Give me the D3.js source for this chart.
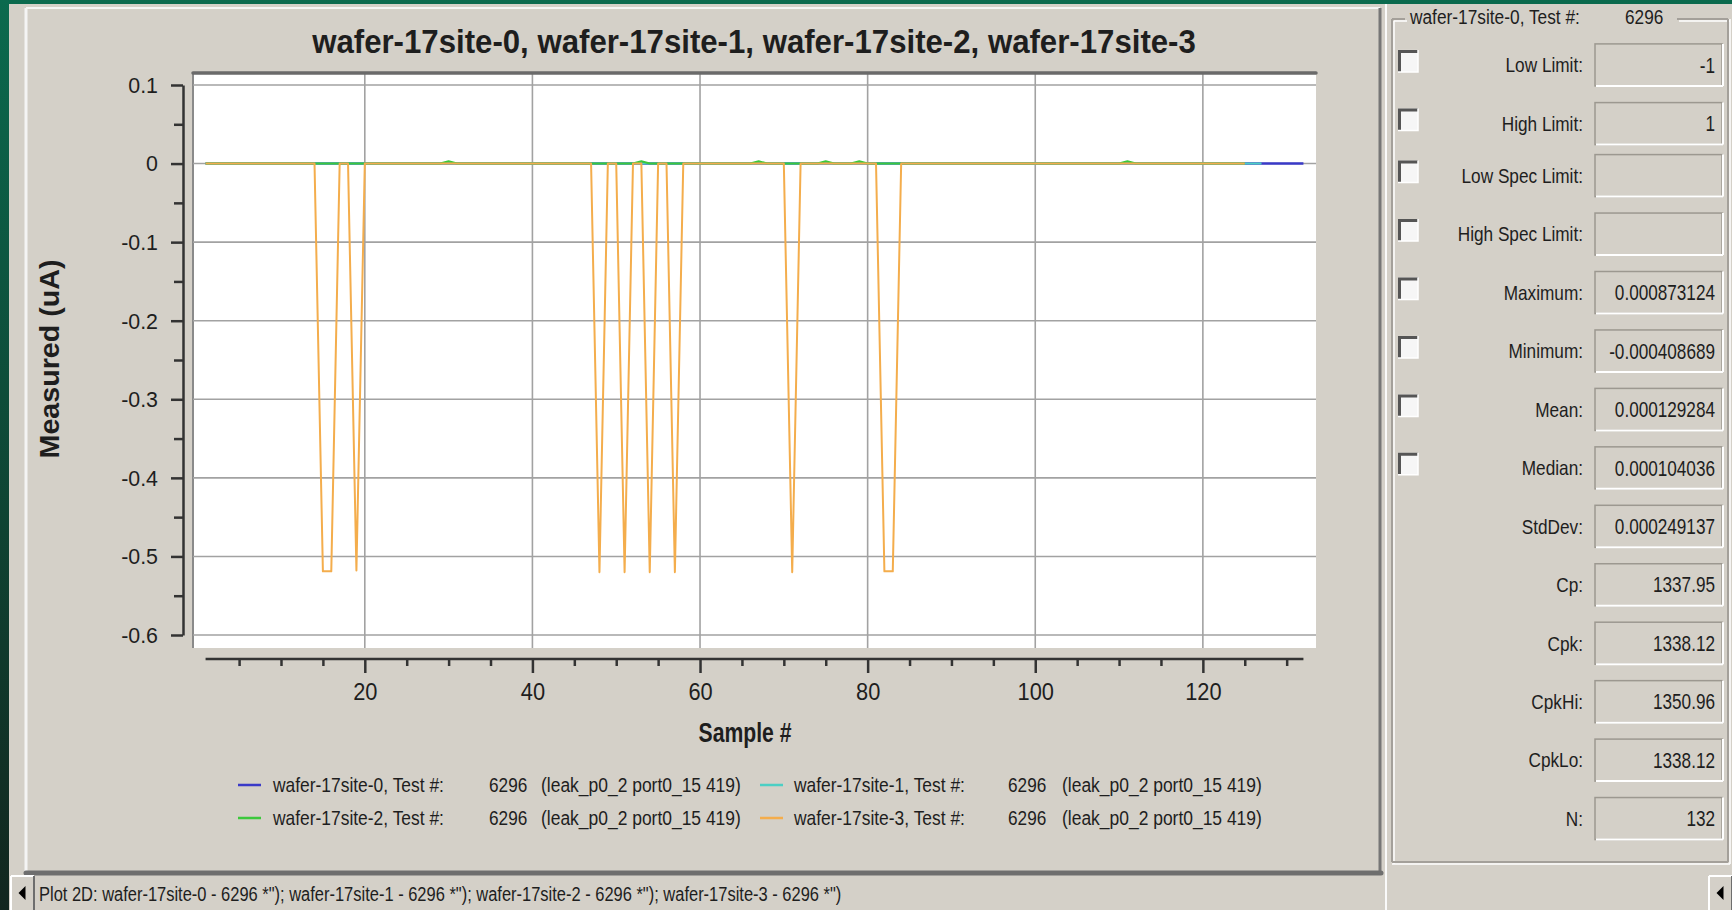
<!DOCTYPE html>
<html lang="en">
<head>
<meta charset="UTF-8">
<title>wafer-17 leak test - Plot 2D</title>
<script src="https://d3js.org/d3.v7.min.js"></script>
<style>
  body { margin: 0; background: #0b5a44; overflow: hidden; }
  svg { display: block; font-family: "Liberation Sans", Arial, sans-serif; }
</style>
</head>
<body>
<svg width="1732" height="910"></svg>
<script>
// ---- data ----
const sites = ["wafer-17site-0", "wafer-17site-1", "wafer-17site-2", "wafer-17site-3"];
const siteColors = ["#3a3ac8", "#4ccfc4", "#3cc83c", "#f4ad4c"];
const siteCounts = [132, 127, 125, 125];
const testNo = "6296";
const testName = "(leak_p0_2 port0_15 419)";

// samples that are visibly off the zero line (sample #, uA); every other sample sits at ~0
const site0Points = [];
const site1Points = [];
const site2Points = [[30, 0.003], [53, 0.003], [67, 0.003], [75, 0.003], [79, 0.003], [111, 0.003]];
const site3Points = [[15, -0.519], [16, -0.519], [19, -0.518], [48, -0.52], [51, -0.52], [54, -0.52],
                     [57, -0.52], [71, -0.52], [82, -0.519], [83, -0.519]];

const yTicks = [0.1, 0, -0.1, -0.2, -0.3, -0.4, -0.5, -0.6];
const yMinorTicks = [0.05, -0.05, -0.15, -0.25, -0.35, -0.45, -0.55];
const xTicks = [20, 40, 60, 80, 100, 120];
const xMinorTicks = [5, 10, 15, 25, 30, 35, 45, 50, 55, 65, 70, 75, 85, 90, 95, 105, 110, 115, 125, 130];

const statLabels = ["Low Limit:", "High Limit:", "Low Spec Limit:", "High Spec Limit:", "Maximum:", "Minimum:",
                    "Mean:", "Median:", "StdDev:", "Cp:", "Cpk:", "CpkHi:", "CpkLo:", "N:"];
const statValues = ["-1", "1", "", "", "0.000873124", "-0.000408689", "0.000129284", "0.000104036",
                    "0.000249137", "1337.95", "1338.12", "1350.96", "1338.12", "132"];
const statChecks = [true, true, true, true, true, true, true, true, false, false, false, false, false, false];

// ---- setup ----
const svg = d3.select("svg");
const W = 1732, H = 910;
const gray = "#d4d0c8";
const ink = "#1e1e1e";

// narrow the text horizontally (the app uses a condensed face)
function squeeze(sel, k) {
  sel.each(function() {
    const t = d3.select(this);
    const x0 = +t.attr("x") || 0;
    t.attr("x", x0 / k).attr("transform", `scale(${k},1)`);
  });
}

// text placed at (x, y), vertically centred; either squeezed by k or fitted to len
function label(parent, x, y, str, opt = {}) {
  const g = parent.append("g").attr("transform", `translate(${x},${y})` + (opt.rotate ? ` rotate(${opt.rotate})` : ""));
  const t = g.append("text")
    .attr("dy", "0.35em")
    .attr("font-size", opt.size || 21)
    .attr("font-weight", opt.bold ? "bold" : null)
    .attr("text-anchor", opt.anchor || "start")
    .attr("fill", opt.color || ink)
    .text(str);
  const k = opt.len ? opt.len / t.node().getComputedTextLength() : (opt.k ?? 0.82);
  t.attr("transform", `scale(${k},1)`);
  return t;
}

function seg(x1, y1, x2, y2, color, w) {
  return svg.append("line").attr("x1", x1).attr("y1", y1).attr("x2", x2).attr("y2", y2)
    .attr("stroke", color).attr("stroke-width", w);
}

// window frame
const defs = svg.append("defs");
const grad = defs.append("linearGradient").attr("id", "frame")
  .attr("x1", 0).attr("y1", 0).attr("x2", 0).attr("y2", 1);
grad.append("stop").attr("offset", "0%").attr("stop-color", "#0b6a4e");
grad.append("stop").attr("offset", "100%").attr("stop-color", "#12261e");
svg.append("rect").attr("width", W).attr("height", H).attr("fill", "url(#frame)");
svg.append("rect").attr("x", 9).attr("y", 4).attr("width", W - 9).attr("height", H - 4).attr("fill", gray);

// main chart panel
seg(26, 8, 1380, 8, "#f4f4f4", 2);
seg(26, 8, 26, 873, "#f4f4f4", 3);
seg(1380, 8, 1380, 874, "#767676", 3);
seg(26, 873, 1381, 873, "#6e6e6e", 5).attr("stroke-linecap", "round");
seg(1386, 4, 1386, H, "#fafafa", 2);

// ---- plot area ----
const plot = { left: 193, right: 1316, top: 72, bottom: 648 };
const x = d3.scaleLinear().domain([-0.5, 133.5]).range([plot.left, plot.right]);
const y = d3.scaleLinear().domain([-0.6, 0.1]).range([635, 85]);

svg.append("rect").attr("x", plot.left).attr("y", plot.top)
  .attr("width", plot.right - plot.left).attr("height", plot.bottom - plot.top).attr("fill", "#fff");
seg(plot.left, plot.top, plot.left, plot.bottom, "#8a8a8a", 2);

const grid = svg.append("g").attr("stroke", "#a2a2a2").attr("stroke-width", 1.6);
grid.selectAll(".h").data(yTicks).join("line").attr("class", "h")
  .attr("x1", plot.left).attr("x2", plot.right)
  .attr("y1", d => y(d)).attr("y2", d => y(d));
grid.selectAll(".v").data(xTicks).join("line").attr("class", "v")
  .attr("x1", d => x(d)).attr("x2", d => x(d))
  .attr("y1", plot.top).attr("y2", plot.bottom);

seg(plot.left, plot.top + 1, plot.right, plot.top + 1, "#6a6a6a", 3.5).attr("stroke-linecap", "round");

// ---- axes ----
function styleAxis(g) {
  g.attr("font-family", null).attr("font-size", null);
  g.selectAll("path.domain").attr("stroke", "#333").attr("stroke-width", 2.5);
  g.selectAll(".tick line").attr("stroke", "#333").attr("stroke-width", 2.5);
  g.selectAll(".tick text").attr("fill", ink).attr("font-size", 23);
}

const gy = svg.append("g").attr("transform", "translate(183,0)")
  .call(d3.axisLeft(y).tickValues(yTicks).tickSize(12).tickSizeOuter(0).tickPadding(13)
    .tickFormat(d => String(+d.toFixed(1))));
styleAxis(gy);
squeeze(gy.selectAll(".tick text"), 0.93);

const gyMinor = svg.append("g").attr("transform", "translate(183,0)")
  .call(d3.axisLeft(y).tickValues(yMinorTicks).tickSize(9).tickFormat(""));
gyMinor.select(".domain").remove();
styleAxis(gyMinor);

const gx = svg.append("g").attr("transform", "translate(0,659)")
  .call(d3.axisBottom(x).tickValues(xTicks).tickSize(14).tickSizeOuter(0).tickPadding(11));
gx.select(".domain").attr("d", `M${x(1)},0H${x(132)}`);
styleAxis(gx);
squeeze(gx.selectAll(".tick text"), 0.95);

const gxMinor = svg.append("g").attr("transform", "translate(0,659)")
  .call(d3.axisBottom(x).tickValues(xMinorTicks).tickSize(7).tickFormat(""));
gxMinor.select(".domain").remove();
styleAxis(gxMinor);

// titles
label(svg, 754, 41, sites.join(", "), { size: 34, bold: true, len: 884, anchor: "middle" });
label(svg, 745, 733, "Sample #", { size: 27, bold: true, len: 93, anchor: "middle" });
label(svg, 50, 359, "Measured (uA)", { size: 27, bold: true, len: 199, anchor: "middle", rotate: -90 });

// ---- series ----
const sitePoints = [site0Points, site1Points, site2Points, site3Points];
const series = sites.map((name, i) => {
  const hits = new Map(sitePoints[i]);
  return d3.range(1, siteCounts[i] + 1).map(s => ({ sample: s, value: hits.get(s) ?? 0 }));
});

const line = d3.line().x(d => x(d.sample)).y(d => y(d.value));
svg.append("g").selectAll("path").data(series).join("path")
  .attr("d", line)
  .attr("fill", "none")
  .attr("stroke", (d, i) => siteColors[i])
  .attr("stroke-width", (d, i) => i === 0 ? 2.6 : 2)
  .attr("stroke-linejoin", "round");

// ---- legend ----
const legCols = [{ line: 238, name: 273, num: 489, test: 541 }, { line: 760, name: 794, num: 1008, test: 1062 }];
const legRows = [785, 818];
sites.forEach((name, i) => {
  const c = legCols[i % 2], ry = legRows[Math.floor(i / 2)];
  seg(c.line, ry, c.line + 23, ry, siteColors[i], 2.5);
  label(svg, c.name, ry, name + ", Test #:", { len: 171 });
  label(svg, c.num, ry, testNo);
  label(svg, c.test, ry, testName, { len: 200 });
});

// ---- status bar ----
function arrowButton(bx, by, bw, bh) {
  svg.append("rect").attr("x", bx).attr("y", by).attr("width", bw).attr("height", bh).attr("fill", gray);
  seg(bx, by, bx + bw, by, "#fff", 2);
  seg(bx, by, bx, by + bh, "#fff", 2);
  seg(bx + bw, by, bx + bw, by + bh, "#6e6e6e", 2);
  const cx = bx + bw / 2, cy = by + bh / 2;
  svg.append("path").attr("d", `M${cx - 4},${cy}L${cx + 3},${cy - 7}V${cy + 7}Z`).attr("fill", "#000");
}
arrowButton(11, 876, 23, 34);
arrowButton(1709, 876, 23, 34);
const plotNames = sites.map(s => `${s} - ${testNo} *")`).join("; ");
label(svg, 39, 894, "Plot 2D: " + plotNames, { len: 803 });

// ---- statistics panel ----
const box = { left: 1392, right: 1728, top: 19, bottom: 862 };
const etch = (x1, y1, x2, y2) => { seg(x1, y1, x2, y2, "#a4a09a", 2); seg(x1 + 2, y1 + 2, x2 + 2, y2 + 2, "#fff", 1.5); };
etch(box.left, box.top, 1405, box.top);
etch(1677, box.top, box.right, box.top);
etch(box.left, box.top, box.left, box.bottom);
seg(box.left, box.bottom, box.right, box.bottom, "#a4a09a", 2);
seg(box.left, box.bottom + 2, box.right + 2, box.bottom + 2, "#fff", 1.5);
seg(box.right, box.top, box.right, box.bottom, "#a4a09a", 2);
seg(box.right + 2, box.top, box.right + 2, box.bottom + 2, "#fff", 1.5);
label(svg, 1410, 17, sites[0] + ", Test #:", { len: 170 });
label(svg, 1625, 17, testNo);

// rows: the first two sit a little further apart than the rest
const rowStep = 58.45, rowBase = 154.6;
const rowTop = i => i >= 2 ? rowBase + (i - 2) * rowStep : rowBase - 52 - (1 - i) * 58.7;
statLabels.forEach((lab, i) => {
  const top = rowTop(i), cy = top + 21;
  if (statChecks[i]) {
    svg.append("rect").attr("x", 1398).attr("y", top + 6).attr("width", 20).attr("height", 22).attr("fill", "#f6f6f6");
    svg.append("path").attr("d", `M1399.5,${top + 28}V${top + 7.5}H1418`)
      .attr("fill", "none").attr("stroke", "#555").attr("stroke-width", 3);
    svg.append("path").attr("d", `M1398,${top + 28}H1418V${top + 6}`)
      .attr("fill", "none").attr("stroke", "#fff").attr("stroke-width", 1.5);
  }
  label(svg, 1583, cy, lab, { anchor: "end" });
  svg.append("rect").attr("x", 1595).attr("y", top).attr("width", 127).attr("height", 42)
    .attr("fill", gray).attr("stroke", "#9c9890").attr("stroke-width", 1.5);
  seg(1596, top + 42, 1723, top + 42, "#fff", 2);
  seg(1723, top, 1723, top + 42, "#fff", 2);
  if (statValues[i]) label(svg, 1715, cy, statValues[i], { size: 22, k: 0.78, anchor: "end" });
});
</script>
</body>
</html>
